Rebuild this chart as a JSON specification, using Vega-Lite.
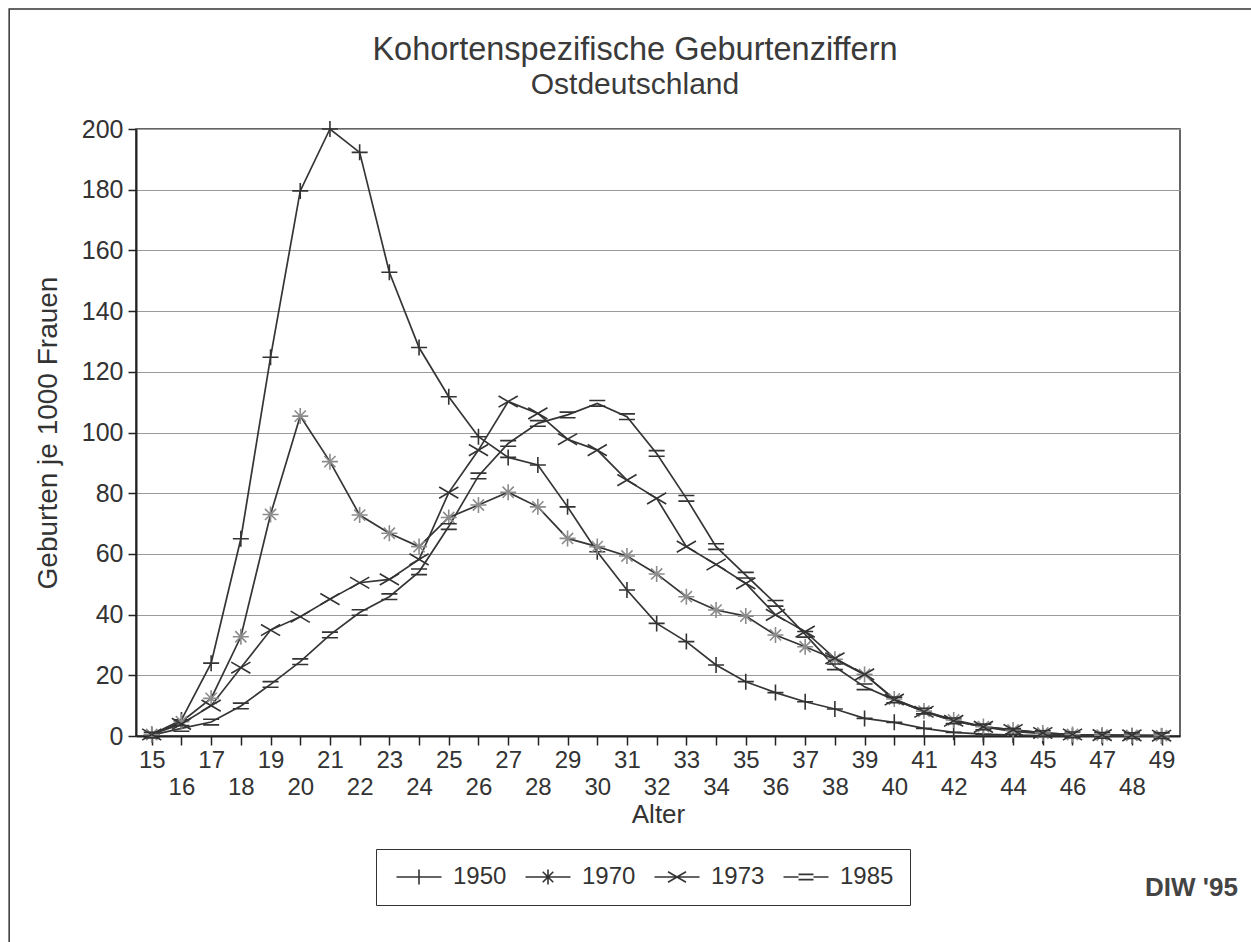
{
  "$schema": "https://vega.github.io/schema/vega-lite/v6.json",
  "autosize": {"type": "none"},
  "padding": {"left": 136, "top": 129, "right": 71, "bottom": 206},
  "width": 1044,
  "height": 607,
  "background": "white",
  "config": {
    "font": "Liberation Sans",
    "view": {"stroke": "#333333", "strokeWidth": 1.5}
  },
  "title": {
    "text": "Kohortenspezifische Geburtenziffern",
    "subtitle": "Ostdeutschland",
    "fontSize": 32.5,
    "subtitleFontSize": 30,
    "fontWeight": "normal",
    "color": "#3a3a3a",
    "subtitleColor": "#3a3a3a",
    "font": "Liberation Sans",
    "subtitleFont": "Liberation Sans",
    "anchor": "middle",
    "frame": "group",
    "dx": -23,
    "offset": -92,
    "subtitlePadding": 4
  },
  "data": {"values": [
    {"age":15,"cohort":"1950","rate":0.5},{"age":16,"cohort":"1950","rate":5.3},{"age":17,"cohort":"1950","rate":24},{"age":18,"cohort":"1950","rate":65},{"age":19,"cohort":"1950","rate":124.8},{"age":20,"cohort":"1950","rate":179.6},{"age":21,"cohort":"1950","rate":200},{"age":22,"cohort":"1950","rate":192.3},{"age":23,"cohort":"1950","rate":152.8},{"age":24,"cohort":"1950","rate":128},{"age":25,"cohort":"1950","rate":111.8},{"age":26,"cohort":"1950","rate":98.6},{"age":27,"cohort":"1950","rate":91.8},{"age":28,"cohort":"1950","rate":89.3},{"age":29,"cohort":"1950","rate":75.5},{"age":30,"cohort":"1950","rate":60.7},{"age":31,"cohort":"1950","rate":48.1},{"age":32,"cohort":"1950","rate":37.1},{"age":33,"cohort":"1950","rate":31.1},{"age":34,"cohort":"1950","rate":23.4},{"age":35,"cohort":"1950","rate":17.9},{"age":36,"cohort":"1950","rate":14.3},{"age":37,"cohort":"1950","rate":11.3},{"age":38,"cohort":"1950","rate":8.9},{"age":39,"cohort":"1950","rate":5.8},{"age":40,"cohort":"1950","rate":4.5},{"age":41,"cohort":"1950","rate":2.5},{"age":42,"cohort":"1950","rate":1.2},{"age":43,"cohort":"1950","rate":0.6},{"age":44,"cohort":"1950","rate":0.3},{"age":45,"cohort":"1950","rate":0.1},{"age":46,"cohort":"1950","rate":0},{"age":47,"cohort":"1950","rate":0},{"age":48,"cohort":"1950","rate":0},{"age":49,"cohort":"1950","rate":0},
    {"age":15,"cohort":"1970","rate":0.5},{"age":16,"cohort":"1970","rate":4.7},{"age":17,"cohort":"1970","rate":12.4},{"age":18,"cohort":"1970","rate":32.7},{"age":19,"cohort":"1970","rate":73},{"age":20,"cohort":"1970","rate":105.4},{"age":21,"cohort":"1970","rate":90.4},{"age":22,"cohort":"1970","rate":72.8},{"age":23,"cohort":"1970","rate":66.8},{"age":24,"cohort":"1970","rate":62.4},{"age":25,"cohort":"1970","rate":72},{"age":26,"cohort":"1970","rate":76.1},{"age":27,"cohort":"1970","rate":80.3},{"age":28,"cohort":"1970","rate":75.5},{"age":29,"cohort":"1970","rate":65.1},{"age":30,"cohort":"1970","rate":62.4},{"age":31,"cohort":"1970","rate":59.3},{"age":32,"cohort":"1970","rate":53.4},{"age":33,"cohort":"1970","rate":45.9},{"age":34,"cohort":"1970","rate":41.5},{"age":35,"cohort":"1970","rate":39.5},{"age":36,"cohort":"1970","rate":33.3},{"age":37,"cohort":"1970","rate":29.4},{"age":38,"cohort":"1970","rate":25.3},{"age":39,"cohort":"1970","rate":20.3},{"age":40,"cohort":"1970","rate":12.2},{"age":41,"cohort":"1970","rate":8.2},{"age":42,"cohort":"1970","rate":5.3},{"age":43,"cohort":"1970","rate":3.1},{"age":44,"cohort":"1970","rate":2},{"age":45,"cohort":"1970","rate":1},{"age":46,"cohort":"1970","rate":0.5},{"age":47,"cohort":"1970","rate":0.3},{"age":48,"cohort":"1970","rate":0.2},{"age":49,"cohort":"1970","rate":0.1},
    {"age":15,"cohort":"1973","rate":0.5},{"age":16,"cohort":"1973","rate":4},{"age":17,"cohort":"1973","rate":10},{"age":18,"cohort":"1973","rate":22.5},{"age":19,"cohort":"1973","rate":34.9},{"age":20,"cohort":"1973","rate":39.3},{"age":21,"cohort":"1973","rate":45.1},{"age":22,"cohort":"1973","rate":50.5},{"age":23,"cohort":"1973","rate":51.6},{"age":24,"cohort":"1973","rate":58.2},{"age":25,"cohort":"1973","rate":80.2},{"age":26,"cohort":"1973","rate":94.2},{"age":27,"cohort":"1973","rate":110.2},{"age":28,"cohort":"1973","rate":106.3},{"age":29,"cohort":"1973","rate":97.8},{"age":30,"cohort":"1973","rate":94.2},{"age":31,"cohort":"1973","rate":84.3},{"age":32,"cohort":"1973","rate":78.3},{"age":33,"cohort":"1973","rate":62.4},{"age":34,"cohort":"1973","rate":56.5},{"age":35,"cohort":"1973","rate":50.3},{"age":36,"cohort":"1973","rate":39.9},{"age":37,"cohort":"1973","rate":34.4},{"age":38,"cohort":"1973","rate":25.6},{"age":39,"cohort":"1973","rate":20.3},{"age":40,"cohort":"1973","rate":12},{"age":41,"cohort":"1973","rate":8},{"age":42,"cohort":"1973","rate":5},{"age":43,"cohort":"1973","rate":3},{"age":44,"cohort":"1973","rate":2},{"age":45,"cohort":"1973","rate":1},{"age":46,"cohort":"1973","rate":0.5},{"age":47,"cohort":"1973","rate":0.3},{"age":48,"cohort":"1973","rate":0.2},{"age":49,"cohort":"1973","rate":0.1},
    {"age":15,"cohort":"1985","rate":0.3},{"age":16,"cohort":"1985","rate":2.5},{"age":17,"cohort":"1985","rate":4.6},{"age":18,"cohort":"1985","rate":9.9},{"age":19,"cohort":"1985","rate":17},{"age":20,"cohort":"1985","rate":24.5},{"age":21,"cohort":"1985","rate":33.3},{"age":22,"cohort":"1985","rate":40.7},{"age":23,"cohort":"1985","rate":45.9},{"age":24,"cohort":"1985","rate":54.1},{"age":25,"cohort":"1985","rate":69},{"age":26,"cohort":"1985","rate":85.7},{"age":27,"cohort":"1985","rate":96.4},{"age":28,"cohort":"1985","rate":103},{"age":29,"cohort":"1985","rate":105.8},{"age":30,"cohort":"1985","rate":109.6},{"age":31,"cohort":"1985","rate":105.2},{"age":32,"cohort":"1985","rate":93.1},{"age":33,"cohort":"1985","rate":78.3},{"age":34,"cohort":"1985","rate":62.4},{"age":35,"cohort":"1985","rate":53},{"age":36,"cohort":"1985","rate":43.7},{"age":37,"cohort":"1985","rate":33.5},{"age":38,"cohort":"1985","rate":22.8},{"age":39,"cohort":"1985","rate":16.2},{"age":40,"cohort":"1985","rate":11.9},{"age":41,"cohort":"1985","rate":8.2},{"age":42,"cohort":"1985","rate":5},{"age":43,"cohort":"1985","rate":3},{"age":44,"cohort":"1985","rate":1.5},{"age":45,"cohort":"1985","rate":0.8},{"age":46,"cohort":"1985","rate":0.4},{"age":47,"cohort":"1985","rate":0.2},{"age":48,"cohort":"1985","rate":0.1},{"age":49,"cohort":"1985","rate":0.1}
  ]},
  "encoding": {
    "x": {
      "field": "age", "type": "quantitative",
      "scale": {"domain": [14.47, 49.62], "nice": false, "zero": false},
      "axis": {
        "title": "Alter",
        "values": [15,16,17,18,19,20,21,22,23,24,25,26,27,28,29,30,31,32,33,34,35,36,37,38,39,40,41,42,43,44,45,46,47,48,49],
        "format": "d",
        "labelOverlap": false,
        "labelFlush": false,
        "labelFontSize": 24,
        "labelColor": "#333333",
        "labelPadding": {"condition": {"test": "datum.value % 2 == 0", "value": 30}, "value": 3},
        "tickSize": 9,
        "tickColor": "#222222",
        "tickWidth": 1.5,
        "domainColor": "#222222",
        "domainWidth": 2,
        "grid": false,
        "titleFontSize": 26,
        "titleFontWeight": "normal",
        "titleColor": "#333333",
        "titlePadding": 2
      }
    },
    "y": {
      "field": "rate", "type": "quantitative",
      "scale": {"domain": [0, 200], "nice": false},
      "axis": {
        "title": "Geburten je 1000 Frauen",
        "values": [0,20,40,60,80,100,120,140,160,180,200],
        "labelFontSize": 25,
        "labelColor": "#333333",
        "labelPadding": 5,
        "tickSize": 8,
        "tickColor": "#222222",
        "tickWidth": 1.5,
        "domainColor": "#222222",
        "domainWidth": 2,
        "grid": true,
        "gridColor": "#9a9a9a",
        "gridWidth": 1.2,
        "titleFontSize": 28,
        "titleFontWeight": "normal",
        "titleColor": "#333333",
        "titlePadding": 19
      }
    }
  },
  "layer": [
    {
      "mark": {"type": "line", "color": "#353535", "strokeWidth": 1.7},
      "encoding": {"detail": {"field": "cohort", "type": "nominal"}}
    },
    {
      "mark": {"type": "point", "filled": false, "size": 256, "strokeWidth": 1.6, "opacity": 1},
      "encoding": {
        "shape": {
          "field": "cohort", "type": "nominal",
          "scale": {
            "domain": ["1950", "1970", "1973", "1985"],
            "range": [
              "M-1,0H1M0,-1V1",
              "M-1,0H1M0,-1V1M-0.7,-0.7L0.7,0.7M-0.7,0.7L0.7,-0.7",
              "M-1.2,-0.7L1.2,0.7M-1.2,0.7L1.2,-0.7",
              "M-1,-0.35H1M-1,0.35H1"
            ]
          },
          "legend": null
        },
        "color": {
          "condition": {"test": "datum.cohort == '1970'", "value": "#8c8c8c"},
          "value": "#333333"
        }
      }
    },
    {
      "transform": [{"filter": "datum.age == 49"}],
      "mark": {"type": "point", "filled": false, "size": 225, "strokeWidth": 1.6, "opacity": 0, "color": "#333333"},
      "encoding": {
        "shape": {
          "field": "cohort", "type": "nominal",
          "scale": {
            "domain": ["1950", "1970", "1973", "1985"],
            "range": [
              "M-1,0H5M2,-1V1",
              "M-1,0H5M2,-1V1M1.3,-0.7L2.7,0.7M1.3,0.7L2.7,-0.7",
              "M-1,0H5M0.8,-0.7L3.2,0.7M0.8,0.7L3.2,-0.7",
              "M-1,0H1M3,0H5M1,-0.35H3M1,0.35H3"
            ]
          },
          "legend": {
            "title": null,
            "orient": "none",
            "legendX": 240,
            "legendY": 720,
            "direction": "horizontal",
            "strokeColor": "#333333",
            "padding": 16,
            "symbolSize": 225,
            "symbolOpacity": 1,
            "symbolStrokeWidth": 1.6,
            "symbolStrokeColor": "#333333",
            "labelFontSize": 24,
            "labelColor": "#333333",
            "labelOffset": 37,
            "columnPadding": 14
          }
        }
      }
    },
    {
      "transform": [{"filter": "datum.age == 49 && datum.cohort == '1950'"}],
      "mark": {"type": "text", "align": "right", "baseline": "middle", "fontSize": 26, "fontWeight": "bold", "fill": "#444444", "clip": false, "text": "DIW '95"},
      "encoding": {
        "x": {"datum": 51.57, "type": "quantitative"},
        "y": {"datum": -50, "type": "quantitative"}
      }
    },
    {
      "transform": [{"filter": "datum.age == 49 && datum.cohort == '1950'"}],
      "mark": {"type": "rect", "fill": "transparent", "stroke": "#333333", "strokeWidth": 1.5, "clip": false},
      "encoding": {
        "x": {"datum": 10.2, "type": "quantitative"},
        "x2": {"datum": 52.4},
        "y": {"datum": 239.5, "type": "quantitative"},
        "y2": {"datum": -80}
      }
    }
  ],
  "resolve": {"scale": {"shape": "independent"}, "legend": {"shape": "independent"}}
}
